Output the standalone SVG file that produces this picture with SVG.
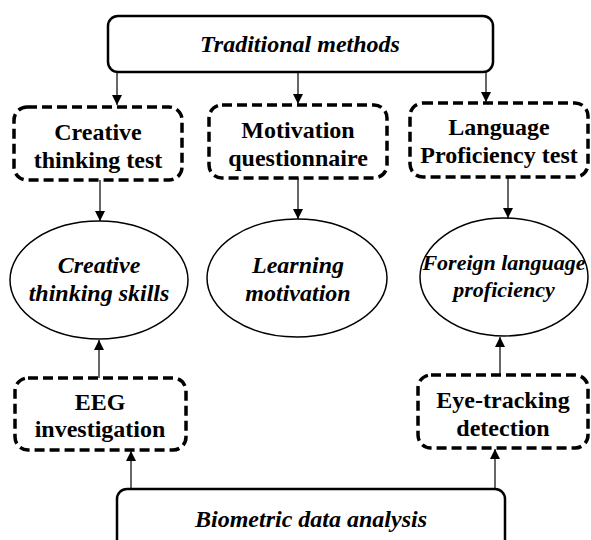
<svg xmlns="http://www.w3.org/2000/svg" width="591" height="540" viewBox="0 0 591 540">
<style>
.solid{fill:#fff;stroke:#000;stroke-width:2.5}
.dash{fill:#fff;stroke:#000;stroke-width:3.5;stroke-dasharray:10 5}
.ell{fill:#fff;stroke:#000;stroke-width:1.5}
.t{font-family:"Liberation Serif","Times New Roman",serif;font-weight:bold;font-size:24px;text-anchor:middle;fill:#000}
.i{font-style:italic}
.c{stroke:#000;stroke-width:1.2;fill:none}
</style>
<defs>
<marker id="ah" viewBox="0 0 10 10" refX="10" refY="5" markerWidth="10" markerHeight="10" markerUnits="userSpaceOnUse" orient="auto">
<path d="M0,0 L10,5 L0,10 Z" fill="#000"/>
</marker>
</defs>
<g id="connectors">
<line class="c" x1="117" y1="72" x2="117" y2="105" marker-end="url(#ah)"/>
<line class="c" x1="298" y1="72" x2="298" y2="104" marker-end="url(#ah)"/>
<line class="c" x1="486" y1="72" x2="486" y2="102" marker-end="url(#ah)"/>
<line class="c" x1="100" y1="180" x2="100" y2="221" marker-end="url(#ah)"/>
<line class="c" x1="298" y1="178" x2="298" y2="219" marker-end="url(#ah)"/>
<line class="c" x1="508" y1="177" x2="508" y2="218" marker-end="url(#ah)"/>
<line class="c" x1="99" y1="378" x2="99" y2="340" marker-end="url(#ah)"/>
<line class="c" x1="500" y1="375" x2="500" y2="337" marker-end="url(#ah)"/>
<line class="c" x1="131" y1="489" x2="131" y2="451" marker-end="url(#ah)"/>
<line class="c" x1="495" y1="489" x2="495" y2="449" marker-end="url(#ah)"/>
</g>
<g id="traditional">
<rect class="solid" x="108" y="16" width="385" height="56" rx="10"/>
<text class="t i" x="300" y="52">Traditional methods</text>
</g>
<g id="creative-test">
<rect class="dash" x="14" y="107" width="168" height="73" rx="13"/>
<text class="t" x="98" y="140">Creative</text>
<text class="t" x="98" y="168">thinking test</text>
</g>
<g id="motivation-q">
<rect class="dash" x="209" y="105" width="178" height="73" rx="13"/>
<text class="t" x="298" y="138">Motivation</text>
<text class="t" x="298" y="166">questionnaire</text>
</g>
<g id="language-test">
<rect class="dash" x="410" y="103" width="178" height="74" rx="13"/>
<text class="t" x="499" y="135">Language</text>
<text class="t" x="499" y="163">Proficiency test</text>
</g>
<g id="creative-skills">
<ellipse class="ell" cx="99" cy="280" rx="89" ry="59"/>
<text class="t i" x="99" y="273">Creative</text>
<text class="t i" x="99" y="301">thinking skills</text>
</g>
<g id="learning-motivation">
<ellipse class="ell" cx="297" cy="278" rx="90" ry="59"/>
<text class="t i" x="298" y="273">Learning</text>
<text class="t i" x="298" y="301">motivation</text>
</g>
<g id="foreign-language">
<ellipse class="ell" cx="504" cy="277" rx="84" ry="59"/>
<text class="t i" x="504" y="270" style="font-size:22px">Foreign language</text>
<text class="t i" x="504" y="297" style="font-size:22px">proficiency</text>
</g>
<g id="eeg">
<rect class="dash" x="15" y="378" width="171" height="72" rx="13"/>
<text class="t" x="100" y="410">EEG</text>
<text class="t" x="100" y="437">investigation</text>
</g>
<g id="eye-tracking">
<rect class="dash" x="418" y="375" width="170" height="73" rx="13"/>
<text class="t" x="503" y="408">Eye-tracking</text>
<text class="t" x="503" y="436">detection</text>
</g>
<g id="biometric">
<rect class="solid" x="117" y="489" width="388" height="70" rx="10"/>
<text class="t i" x="311" y="527">Biometric data analysis</text>
</g>
</svg>
